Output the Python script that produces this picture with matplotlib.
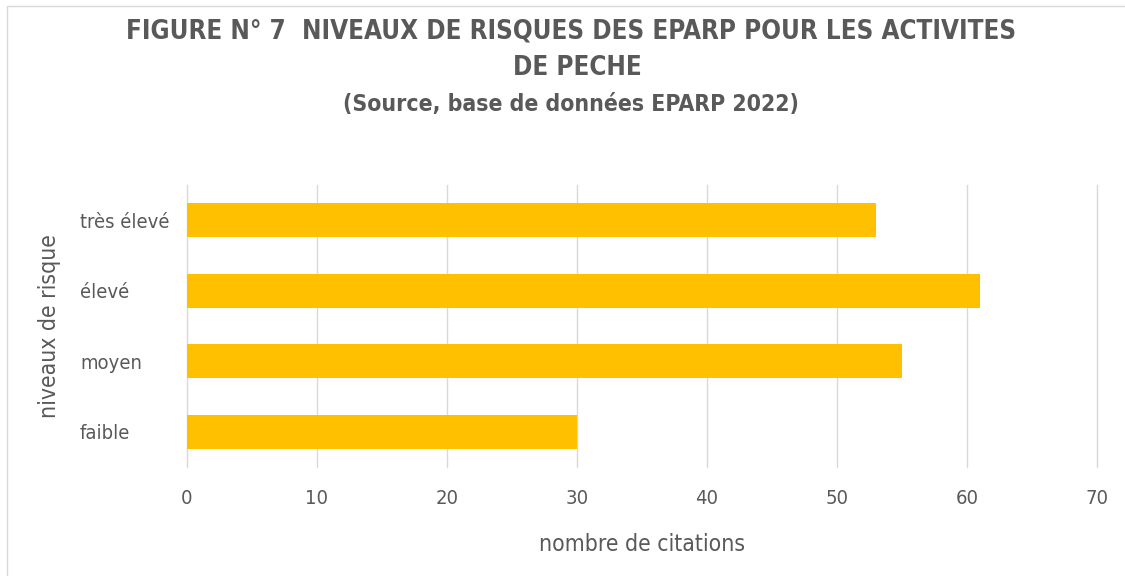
import matplotlib.pyplot as plt
from matplotlib.patches import Rectangle

categories = ['faible', 'moyen', 'élevé', 'très élevé']
citations = [30, 55, 61, 53]
xticks = [0, 10, 20, 30, 40, 50, 60, 70]

plt.rcParams['font.family'] = ['DejaVu Sans']
plt.rcParams['font.stretch'] = 'condensed'
grey = '#595959'

fig = plt.figure(figsize=(11.25, 5.76), dpi=100)
ax = fig.add_axes([0.1662, 0.1892, 0.8089, 0.4896])

ax.barh(categories, citations, height=0.48, color='#FFC000', zorder=3)
ax.set_xlim(0, 70)
ax.set_ylim(-0.5, 3.5)
ax.set_xticks(xticks)
ax.grid(axis='x', color='#d9d9d9', linewidth=1.0, zorder=0)
for gl in ax.get_xgridlines():
    gl.set_clip_on(False)
for s in ax.spines.values():
    s.set_visible(False)
ax.tick_params(axis='both', length=0, colors=grey, labelsize=14.5)
ax.tick_params(axis='x', pad=16)
ax.tick_params(axis='y', pad=77)
for lbl in ax.get_yticklabels():
    lbl.set_ha('left')

ax.set_xlabel('nombre de citations', fontsize=16.5, color=grey, labelpad=18)
ax.set_ylabel('niveaux de risque', fontsize=16.5, color=grey, labelpad=14)

fig.text(0.5076, 0.945, 'FIGURE N° 7  NIVEAUX DE RISQUES DES EPARP POUR LES ACTIVITES',
         ha='center', va='center', fontsize=18.6, fontweight='bold', color=grey)
fig.text(0.513, 0.882, 'DE PECHE', ha='center', va='center', fontsize=18.6,
         fontweight='bold', color=grey)
fig.text(0.5076, 0.819, '(Source, base de données EPARP 2022)', ha='center', va='center',
         fontsize=16.5, fontweight='bold', color=grey)

fig.patches.append(Rectangle((7 / 1125, -0.01), 1.0, 1 - 6 / 576 + 0.01,
                             transform=fig.transFigure, fill=False,
                             edgecolor='#d9d9d9', linewidth=1))

fig.savefig('out.png', dpi=100)
